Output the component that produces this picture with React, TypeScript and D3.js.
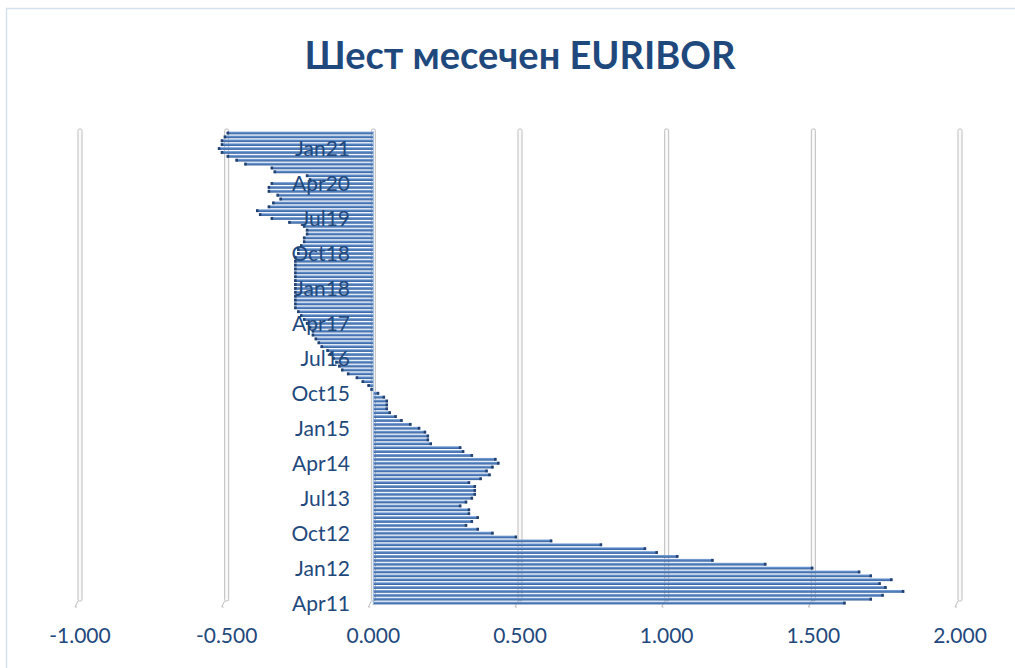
import * as d3 from 'd3';

// 6M EURIBOR monthly, Apr 2011 – May 2021 (%)
const MONTHS = ['Jan', 'Feb', 'Mar', 'Apr', 'May', 'Jun', 'Jul', 'Aug', 'Sep', 'Oct', 'Nov', 'Dec'];
const Y2011 = [1.61, 1.70, 1.74, 1.81, 1.75, 1.73, 1.77, 1.70, 1.66]; // Apr..Dec
const Y2012 = [1.50, 1.34, 1.16, 1.04, 0.97, 0.93, 0.78, 0.61, 0.49, 0.41, 0.36, 0.32];
const Y2013 = [0.34, 0.36, 0.33, 0.33, 0.30, 0.32, 0.34, 0.35, 0.35, 0.35, 0.33, 0.37];
const Y2014 = [0.40, 0.39, 0.41, 0.43, 0.42, 0.34, 0.31, 0.30, 0.20, 0.19, 0.19, 0.18];
const Y2015 = [0.16, 0.13, 0.10, 0.08, 0.06, 0.05, 0.05, 0.05, 0.04, 0.02, -0.01, -0.02];
const Y2016 = [-0.04, -0.06, -0.09, -0.11, -0.12, -0.13, -0.14, -0.15, -0.16, -0.18, -0.19, -0.20];
const Y2017 = [-0.21, -0.21, -0.22, -0.23, -0.24, -0.25, -0.26, -0.27, -0.27, -0.27, -0.27, -0.27];
const Y2018 = [-0.27, -0.27, -0.27, -0.27, -0.27, -0.27, -0.27, -0.27, -0.27, -0.26, -0.26, -0.25];
const Y2019 = [-0.24, -0.24, -0.23, -0.23, -0.24, -0.29, -0.35, -0.39, -0.40, -0.36, -0.345, -0.32];
const Y2020 = [-0.33, -0.36, -0.36, -0.35, -0.22, -0.23, -0.34, -0.35, -0.44, -0.47, -0.50, -0.52];
const Y2021 = [-0.53, -0.52, -0.52, -0.51, -0.50]; // Jan..May

const SERIES: [number, number, number[]][] = [
  [11, 3, Y2011], [12, 0, Y2012], [13, 0, Y2013], [14, 0, Y2014], [15, 0, Y2015],
  [16, 0, Y2016], [17, 0, Y2017], [18, 0, Y2018], [19, 0, Y2019], [20, 0, Y2020], [21, 0, Y2021],
];

const X_TICKS = [-1, -0.5, 0, 0.5, 1, 1.5, 2];
const LABEL_STEP = 9;

const TITLE = 'Шест месечен EURIBOR';
const TEXT_COLOR = '#1F497D';
const FONT = 'Lato, "Liberation Sans", sans-serif';

type Row = { label: string; value: number };

const rows: Row[] = SERIES.flatMap(([yy, start, vals]) =>
  vals.map((v, k) => ({ label: `${MONTHS[start + k]}${yy}`, value: v })),
);

// Excel-style "-1.000" with a plain hyphen
const fmtTick = (t: number) => t.toFixed(3);

export default function App() {
  const width = 1015;
  const height = 668;
  const plotTop = 131;
  const plotBottom = 605;

  const x = d3.scaleLinear().domain([-1, 2]).range([80, 960]);
  const y = d3.scaleBand<string>()
    .domain(rows.map((r) => r.label).reverse())
    .range([plotTop, plotBottom])
    .paddingInner(0.28)
    .paddingOuter(0.15);
  const bw = y.bandwidth();

  return (
    <div style={{ position: 'fixed', left: 0, top: 0 }}>
      <svg width={width} height={height} style={{ display: 'block', background: '#fff' }}>
        <defs>
          <linearGradient id="barFill" x1="0" y1="0" x2="0" y2="1">
            <stop offset="0%" stopColor="#86AADB" />
            <stop offset="45%" stopColor="#4A7BBE" />
            <stop offset="100%" stopColor="#2C5894" />
          </linearGradient>
        </defs>

        {/* chart frame */}
        <rect x={6.5} y={8.5} width={1030} height={700} fill="none" stroke="#D5E1EF" strokeWidth={1.5} />

        {/* title */}
        <text x={520} y={69} textAnchor="middle" fontFamily={FONT} fontWeight={700} fontSize={38} fill={TEXT_COLOR}>
          {TITLE}
        </text>

        {/* gridlines (3D walls style) */}
        {X_TICKS.map((t) => {
          const gx = x(t);
          return (
            <g key={`g${t}`}>
              <rect x={gx - 2} y={plotTop - 2} width={4} height={plotBottom - plotTop - 2} rx={1.5}
                fill="#FAFAFA" stroke="#BDBDBD" strokeWidth={1} />
              <path d={`M${gx - 2},${plotBottom - 4} L${gx - 5},${plotBottom + 2} L${gx - 3},${plotBottom + 2}`}
                fill="none" stroke="#BDBDBD" strokeWidth={1} />
            </g>
          );
        })}

        {/* bars */}
        {rows.map((r) => {
          const by = y(r.label)!;
          const x0 = x(Math.min(0, r.value));
          const x1 = x(Math.max(0, r.value));
          const w = Math.max(x1 - x0, 0.8);
          const capX = r.value >= 0 ? x1 - 2.5 : x0;
          return (
            <g key={r.label}>
              <rect x={x0} y={by} width={w} height={bw} fill="url(#barFill)" opacity={0.95} />
              <rect x={capX} y={by} width={Math.min(2.5, w)} height={bw} fill="#23416E" />
            </g>
          );
        })}

        {/* category axis line */}
        <line x1={x(0)} x2={x(0)} y1={plotTop} y2={plotBottom} stroke="#9DB9DC" strokeWidth={1} />

        {/* category labels */}
        {rows.map((r, i) => (i % LABEL_STEP === 0 ? (
          <text key={`l${r.label}`} x={350} y={y(r.label)! + bw / 2} dy="0.36em" textAnchor="end"
            fontFamily={FONT} fontSize={21} fill={TEXT_COLOR}>
            {r.label}
          </text>
        ) : null))}

        {/* value axis labels */}
        {X_TICKS.map((t) => (
          <text key={`t${t}`} x={x(t)} y={643} textAnchor="middle" fontFamily={FONT} fontSize={21} fill={TEXT_COLOR}>
            {fmtTick(t)}
          </text>
        ))}
      </svg>
    </div>
  );
}
